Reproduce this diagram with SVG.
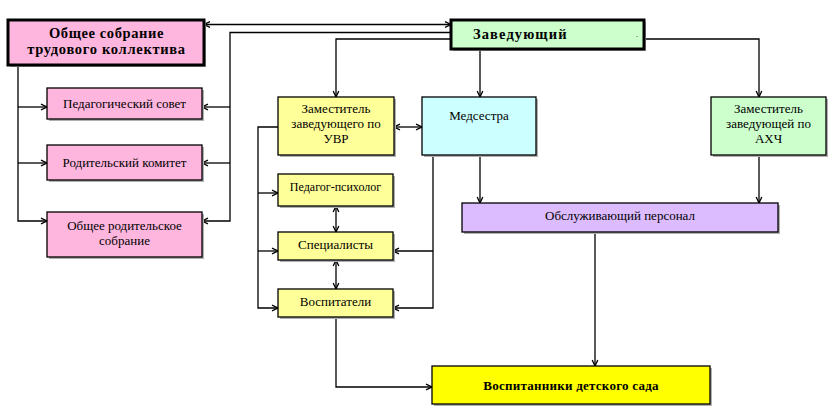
<svg xmlns="http://www.w3.org/2000/svg" width="832" height="409" viewBox="0 0 832 409" font-family="'Liberation Serif', 'DejaVu Serif', serif">
<style>
.box{stroke:#000;stroke-width:1.3}
.thick{stroke:#000;stroke-width:3}
.sh{fill:#b0b0b0}
text{font-family:'Liberation Serif','DejaVu Serif',serif;font-size:13px;fill:#000;text-anchor:middle}
.b{font-weight:bold}
.c{fill:none;stroke:#000;stroke-width:1.3}
</style>
<defs>
<marker id="ah" viewBox="0 0 8 8" refX="7" refY="4" markerWidth="8" markerHeight="8" markerUnits="userSpaceOnUse" orient="auto-start-reverse">
<path d="M1,1.2 L7,4 L1,6.8" fill="none" stroke="#000" stroke-width="1.3"/>
</marker>
</defs>
<rect width="832" height="409" fill="#fff"/>

<g id="connectors">
<path class="c" d="M204,24.5 H451" marker-start="url(#ah)" marker-end="url(#ah)"/>
<path class="c" d="M451,32.5 H230 V221 H202" marker-end="url(#ah)"/>
<path class="c" d="M230,107 H202" marker-end="url(#ah)"/>
<path class="c" d="M230,163 H202" marker-end="url(#ah)"/>
<path class="c" d="M18,65 V221 H47" marker-end="url(#ah)"/>
<path class="c" d="M18,107 H47" marker-end="url(#ah)"/>
<path class="c" d="M18,163 H47" marker-end="url(#ah)"/>
<path class="c" d="M451,39 H336 V97" marker-end="url(#ah)"/>
<path class="c" d="M480,49 V97" marker-end="url(#ah)"/>
<path class="c" d="M644,39 H759 V97" marker-end="url(#ah)"/>
<path class="c" d="M394,127 H422" marker-start="url(#ah)" marker-end="url(#ah)"/>
<path class="c" d="M278,127 H258 V308 H278" marker-end="url(#ah)"/>
<path class="c" d="M258,193 H278" marker-end="url(#ah)"/>
<path class="c" d="M258,251 H278" marker-end="url(#ah)"/>
<path class="c" d="M433,155 V308 H393" marker-end="url(#ah)"/>
<path class="c" d="M433,251 H393" marker-end="url(#ah)"/>
<path class="c" d="M480,155 V203" marker-end="url(#ah)"/>
<path class="c" d="M759,155 V203" marker-end="url(#ah)"/>
<path class="c" d="M336,206 V232" marker-start="url(#ah)" marker-end="url(#ah)"/>
<path class="c" d="M336,260 V289" marker-start="url(#ah)" marker-end="url(#ah)"/>
<path class="c" d="M336,317 V387 H432" marker-end="url(#ah)"/>
<path class="c" d="M595,232 V366" marker-end="url(#ah)"/>
</g>

<g id="n-obshchee-sobranie">
<rect class="sh" x="10" y="22" width="196" height="45"/>
<rect class="thick" x="8" y="20" width="196" height="45" fill="#FFB6DE"/>
<text class="b" x="106.5" y="38" style="font-size:14.5px;letter-spacing:0.6px">Общее собрание</text>
<text class="b" x="106.5" y="54" style="font-size:14.5px;letter-spacing:0.7px">трудового коллектива</text>
</g>

<g id="n-pedsovet">
<rect class="sh" x="49" y="90" width="155" height="31"/>
<rect class="box" x="47" y="88" width="155" height="31" fill="#FFB6DE"/>
<text x="124.5" y="108">Педагогический совет</text>
</g>

<g id="n-rodkomitet">
<rect class="sh" x="49" y="147" width="155" height="35"/>
<rect class="box" x="47" y="145" width="155" height="35" fill="#FFB6DE"/>
<text x="124.5" y="167">Родительский комитет</text>
</g>

<g id="n-rodsobranie">
<rect class="sh" x="49" y="214" width="155" height="45"/>
<rect class="box" x="47" y="212" width="155" height="45" fill="#FFB6DE"/>
<text x="124.5" y="230">Общее родительское</text>
<text x="124.5" y="245">собрание</text>
</g>

<g id="n-zaveduyushchiy">
<rect class="sh" x="453" y="22" width="193" height="29"/>
<rect class="thick" x="451" y="20" width="193" height="29" fill="#CCFFCC"/>
<text class="b" x="473" y="39" style="font-size:14.5px;text-anchor:start;letter-spacing:1.1px">Заведующий</text>
<text x="637" y="37" style="font-size:8px">.</text>
</g>

<g id="n-zam-uvr">
<rect class="sh" x="280" y="99" width="116" height="58"/>
<rect class="box" x="278" y="97" width="116" height="58" fill="#FFFF99"/>
<text x="336" y="113">Заместитель</text>
<text x="336" y="128">заведующего по</text>
<text x="336" y="143">УВР</text>
</g>

<g id="n-medsestra">
<rect class="sh" x="424" y="99" width="114" height="58"/>
<rect class="box" x="422" y="97" width="114" height="58" fill="#CCFFFF"/>
<text x="479" y="120">Медсестра</text>
</g>

<g id="n-zam-ahch">
<rect class="sh" x="713" y="99" width="115" height="58"/>
<rect class="box" x="711" y="97" width="115" height="58" fill="#CCFFCC"/>
<text x="768.5" y="113">Заместитель</text>
<text x="768.5" y="128">заведующей по</text>
<text x="768.5" y="143">АХЧ</text>
</g>

<g id="n-psiholog">
<rect class="sh" x="280" y="176" width="115" height="32"/>
<rect class="box" x="278" y="174" width="115" height="32" fill="#FFFF99"/>
<text x="335.5" y="191" style="font-size:12px">Педагог-психолог</text>
</g>

<g id="n-specialisty">
<rect class="sh" x="280" y="234" width="115" height="28"/>
<rect class="box" x="278" y="232" width="115" height="28" fill="#FFFF99"/>
<text x="335.5" y="249">Специалисты</text>
</g>

<g id="n-vospitateli">
<rect class="sh" x="280" y="291" width="115" height="28"/>
<rect class="box" x="278" y="289" width="115" height="28" fill="#FFFF99"/>
<text x="335.5" y="306">Воспитатели</text>
</g>

<g id="n-obsluzhivayushchiy">
<rect class="sh" x="464" y="205" width="316" height="29"/>
<rect class="box" x="462" y="203" width="316" height="29" fill="#DDBBFF"/>
<text x="620" y="220">Обслуживающий персонал</text>
</g>

<g id="n-vospitanniki">
<rect class="sh" x="434" y="368" width="278" height="38"/>
<rect class="box" x="432" y="366" width="278" height="38" fill="#FFFF00"/>
<text class="b" x="571" y="390" style="letter-spacing:0.25px">Воспитанники детского сада</text>
</g>
</svg>
